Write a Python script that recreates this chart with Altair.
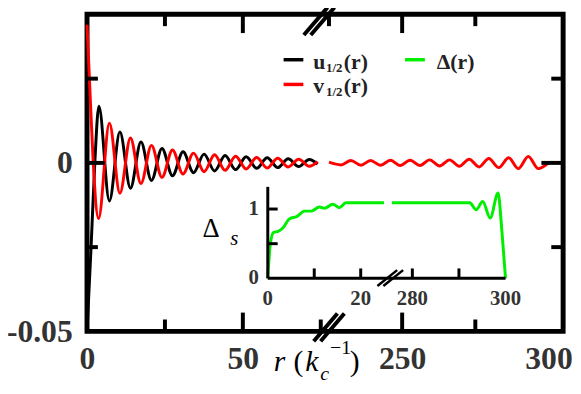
import altair as alt
import pandas as pd

# ---------------- data ----------------
# u_{1/2}(r), left segment (extrema + end points)
u_r = [0, 1.3, 2.5, 3.8, 7.18, 10.55, 13.93, 17.3, 20.68, 24.05, 27.43, 30.8, 34.18,
       37.55, 40.93, 44.3, 47.68, 51.05, 54.43, 57.8, 61.18, 64.55, 67.93, 71.3, 74.0]
u_val = [-0.050, -0.025, 0.0, 0.0168, -0.0113, 0.0092, -0.0075, 0.0062, -0.0052, 0.0043,
         -0.0038, 0.0033, -0.0029, 0.0026, -0.0024, 0.0022, -0.0020, 0.0018, -0.0016,
         0.0015, -0.0014, 0.0012, -0.0011, 0.0010, -0.0004]
# v_{1/2}(r), left segment
v_r = [0, 1.0, 2.0, 3.7, 7.18, 10.55, 13.93, 17.3, 20.68, 24.05, 27.43, 30.8, 34.18,
       37.55, 40.93, 44.3, 47.68, 51.05, 54.43, 57.8, 61.18, 64.55, 67.93, 71.3, 74.0]
v_val = [0.041, 0.020, 0.0, -0.0165, 0.0118, -0.0090, 0.0074, -0.0061, 0.0052, -0.0043,
         0.0038, -0.0033, 0.0029, -0.0026, 0.0024, -0.0022, 0.0020, -0.0018, 0.0016,
         -0.0015, 0.0014, -0.0012, 0.0011, -0.0010, 0.0004]
# v_{1/2}(r), right segment
vR_r = [225.0, 229.1, 232.5, 235.9, 239.2, 242.6, 246.0, 249.3, 252.7, 256.1, 259.4, 262.8,
        266.2, 269.5, 272.9, 276.3, 279.6, 283.0, 286.4, 289.7, 293.1, 296.5, 300.0]
vR_val = [0.0002, -0.0006, 0.0007, -0.0007, 0.0007, -0.0007, 0.0008, -0.0008, 0.0008,
          -0.0008, 0.0009, -0.0009, 0.0009, -0.0010, 0.0011, -0.0012, 0.0013, -0.0014,
          0.0015, -0.0017, 0.0019, -0.0017, 0.0]
# inset Delta(r)
gL_r = [0, 0.5, 1.2, 2.3, 3.3, 4.7, 6.2, 7.9, 9.4, 11.1, 12.2, 14.0, 15.4, 16.8, 25.0]
gL_val = [0, 0.47, 0.66, 0.68, 0.73, 0.86, 0.89, 0.97, 0.97, 1.03, 1.01, 1.07, 1.02, 1.09, 1.09]
gR_r = [275.6, 292.3, 293.7, 295.1, 296.7, 298.4, 299.2, 300.0]
gR_val = [1.09, 1.09, 0.99, 1.11, 0.87, 1.23, 0.70, 0.0]

main_x_labels = [0, 50, 250, 300]
main_y_labels = [-0.05, 0]
inset_x_labels = [0, 20, 280, 300]
inset_y_labels = [0, 1]

# ---------------- layout ----------------
W, H = 482, 321
SERIF = "Times New Roman, Liberation Serif, Times, serif"
LAB = "#333333"

main_x = alt.Scale(domain=[0, 76.7, 224, 305], range=[0, 242, 242, W], nice=False, zero=False)
main_y = alt.Scale(domain=[-0.05, 0.0441], nice=False, zero=False)
ins_x = alt.Scale(domain=[0, 26, 274.9, 300], range=[183, 305.3, 305.3, 423.7], nice=False, zero=False)
ins_y = alt.Scale(domain=[0, 1.32], range=[267.3, 174.7], nice=False, zero=False)

X_AX = alt.Axis(values=main_x_labels, ticks=False, domain=False, grid=False, title=None,
                labelPadding=13, labelFlush=False, labelOverlap=False, labelFont=SERIF,
                labelFontWeight="bold", labelFontSize=32, labelColor=LAB)
Y_AX = alt.Axis(values=main_y_labels, ticks=False, domain=False, grid=False, title=None,
                labelPadding=15, labelFlush=False, labelOverlap=False, labelFont=SERIF,
                labelFontWeight="bold", labelFontSize=32, labelColor=LAB,
                labelExpr="datum.value == 0 ? '0' : '-0.05'")

one = pd.DataFrame({"a": [0]})


def X(f):
    return alt.X(f, type="quantitative", scale=main_x, axis=X_AX)


def Y(f):
    return alt.Y(f, type="quantitative", scale=main_y, axis=Y_AX)


dfu = pd.DataFrame({"r": u_r, "val": u_val})
dfv = pd.concat([
    pd.DataFrame({"r": v_r, "val": v_val, "seg": "L"}),
    pd.DataFrame({"r": vR_r, "val": vR_val, "seg": "R"}),
])

line_u = alt.Chart(dfu).mark_line(color="black", strokeWidth=3, interpolate="monotone").encode(
    x=X("r"), y=Y("val"))
line_v = alt.Chart(dfv).mark_line(color="#ff0000", strokeWidth=3, interpolate="monotone").encode(
    x=X("r"), y=Y("val"), detail="seg:N")


def vticks(vals, y0, y1):
    return alt.Chart(pd.DataFrame({"t": vals})).mark_rule(color="black", strokeWidth=4).encode(
        x=X("t"), y=alt.value(y0), y2=alt.value(y1))


def hticks(vals, x0, x1):
    return alt.Chart(pd.DataFrame({"t": vals})).mark_rule(color="black", strokeWidth=4).encode(
        y=Y("t"), x=alt.value(x0), x2=alt.value(x1))


ticks = [
    vticks([50, 250], H, H - 19), vticks([25, 75, 275], H, H - 12),
    vticks([50, 250], 0, 19), vticks([25, 225, 275], 0, 12),
    hticks([0], 0, 18), hticks([-0.025, 0.025], 0, 11),
    hticks([0], W - 22, W), hticks([-0.025, 0.025], W - 12, W),
]


def slash(cx, cy, dx, dy, off, sw):
    out = []
    for o in (-off, off):
        out.append(alt.Chart(one).mark_rule(color="black", strokeWidth=sw).encode(
            x=alt.value(cx - dx + o), x2=alt.value(cx + dx + o),
            y=alt.value(cy + dy), y2=alt.value(cy - dy)))
    return out


breaks = slash(235, 7, 12, 14, 3.5, 4) + slash(245, 317, 12, 14, 3.5, 4)


def txt(s, x, y, size, weight="normal", style="normal", color="#222222", align="left", font=SERIF):
    return alt.Chart(one).mark_text(text=s, align=align, baseline="alphabetic", font=font,
                                    fontSize=size, fontWeight=weight, fontStyle=style,
                                    color=color).encode(x=alt.value(x), y=alt.value(y))


def legline(x0, y, color):
    return alt.Chart(one).mark_rule(color=color, strokeWidth=3.5).encode(
        x=alt.value(x0), x2=alt.value(x0 + 20), y=alt.value(y))


legend = [
    legline(199, 46, "black"), legline(199, 71, "#ff0000"), legline(322, 46, "#00ee00"),
    txt("u", 229, 55, 22, "bold"), txt("1/2", 242, 58, 13, "bold"), txt("(r)", 260, 55, 22, "bold"),
    txt("v", 229, 80, 22, "bold"), txt("1/2", 242, 83, 13, "bold"), txt("(r)", 260, 80, 22, "bold"),
    txt("Δ(r)", 354, 55, 22, "bold"),
]

xtitle = [
    txt("r", 189, 361, 30, style="italic", color="black"),
    txt("(", 209, 361, 30, color="black"),
    txt("k", 221, 361, 30, style="italic", color="black"),
    txt("c", 236, 370, 20, style="italic", color="black"),
    txt("−1", 246, 344, 20, color="black"),
    txt(")", 266, 361, 30, color="black"),
]

main_group = alt.layer(line_u, line_v, *ticks, *breaks, *legend, *xtitle)

# ---------------- inset ----------------
dfg = pd.concat([
    pd.DataFrame({"r": gL_r, "val": gL_val, "seg": "L"}),
    pd.DataFrame({"r": gR_r, "val": gR_val, "seg": "R"}),
])


def IX(f):
    return alt.X(f, type="quantitative", scale=ins_x, axis=None)


def IY(f):
    return alt.Y(f, type="quantitative", scale=ins_y, axis=None)


green = alt.Chart(dfg).mark_line(color="#00ee00", strokeWidth=3, interpolate="monotone").encode(
    x=IX("r"), y=IY("val"), detail="seg:N")
ins_left = alt.Chart(pd.DataFrame({"x": [0], "ya": [0], "yb": [1.32]})).mark_rule(
    color="black", strokeWidth=3).encode(x=IX("x"), y=IY("ya"), y2="yb:Q")
ins_bottom = alt.Chart(pd.DataFrame({"xa": [0], "xb": [300], "y": [0]})).mark_rule(
    color="black", strokeWidth=3).encode(x=IX("xa"), x2="xb:Q", y=IY("y"))
ins_vt = alt.Chart(pd.DataFrame({"t": [10, 20, 280, 290]})).mark_rule(
    color="black", strokeWidth=3).encode(x=IX("t"), y=alt.value(267.3), y2=alt.value(257.3))
ins_ht = alt.Chart(pd.DataFrame({"t": [0.5, 1]})).mark_rule(
    color="black", strokeWidth=3).encode(y=IY("t"), x=alt.value(183), x2=alt.value(193))
ins_xl = alt.Chart(pd.DataFrame({"t": inset_x_labels})).mark_text(
    baseline="middle", align="center", font=SERIF, fontSize=21, fontWeight="bold", color=LAB).encode(
    x=IX("t"), y=alt.value(288.5), text=alt.Text("t:Q", format="d"))
ins_yl = alt.Chart(pd.DataFrame({"t": inset_y_labels})).mark_text(
    baseline="middle", align="right", font=SERIF, fontSize=21, fontWeight="bold", color=LAB).encode(
    y=IY("t"), x=alt.value(174), text=alt.Text("t:Q", format="d"))
ins_break = slash(307, 267, 10, 8, 3, 2.5)
ins_title = [txt("Δ", 117, 225, 27, color="black"),
             txt("s", 145, 234, 21, style="italic", color="black")]

inset_group = alt.layer(green, ins_left, ins_bottom, ins_vt, ins_ht, ins_xl, ins_yl,
                        *ins_break, *ins_title)

chart = alt.layer(main_group, inset_group).resolve_scale(
    x="independent", y="independent"
).properties(
    width=W, height=H, autosize="none",
    padding={"left": 80, "top": 4, "right": 10, "bottom": 58},
).configure_view(stroke="black", strokeWidth=5)

chart.save("out.html", embed_options={"renderer": "svg", "actions": False})
